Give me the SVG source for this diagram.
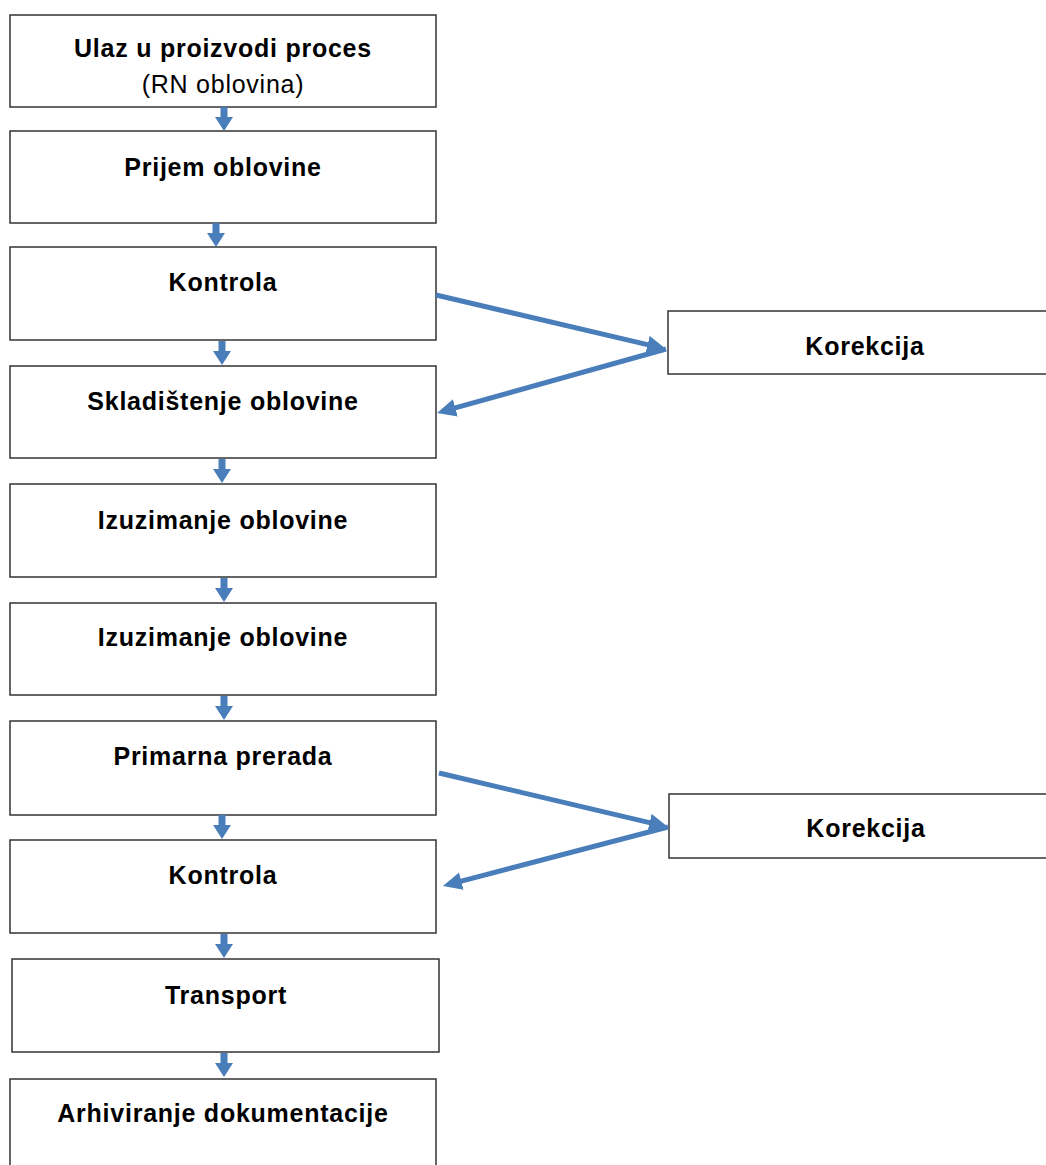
<svg xmlns="http://www.w3.org/2000/svg" width="1046" height="1165" viewBox="0 0 1046 1165">
  <style>
    .box { fill: #ffffff; stroke: #333333; stroke-width: 1.5; }
    .t { font-family: "Liberation Sans", Arial, sans-serif; font-size: 25px; font-weight: bold; fill: #000000; text-anchor: middle; letter-spacing: 0.75px; }
    .r { font-weight: normal; }
    .conn { stroke: #4a7ebb; stroke-width: 5; fill: none; marker-end: url(#head); }
    .varr { fill: #4a7ebb; }
  </style>
  <defs>
    <marker id="head" markerUnits="userSpaceOnUse" markerWidth="22" markerHeight="20" refX="2" refY="9" orient="auto">
      <path d="M0,0 L19,9 L0,18 Z" fill="#4a7ebb"/>
    </marker>
    <path id="down" d="M-3.5,0 H3.5 V10 H9 L0,24 L-9,10 H-3.5 Z"/>
  </defs>
  <rect width="1046" height="1165" fill="#ffffff"/>

  <g id="n1"><rect class="box" x="10" y="15" width="426" height="92"/>
    <text class="t" x="223" y="57">Ulaz u proizvodi proces</text>
    <text class="t r" x="223" y="93">(RN oblovina)</text></g>
  <g id="n2"><rect class="box" x="10" y="131" width="426" height="92"/>
    <text class="t" x="223" y="176">Prijem oblovine</text></g>
  <g id="n3"><rect class="box" x="10" y="247" width="426" height="93"/>
    <text class="t" x="223" y="291">Kontrola</text></g>
  <g id="n4"><rect class="box" x="10" y="366" width="426" height="92"/>
    <text class="t" x="223" y="410">Skladištenje oblovine</text></g>
  <g id="n5"><rect class="box" x="10" y="484" width="426" height="93"/>
    <text class="t" x="223" y="529">Izuzimanje oblovine</text></g>
  <g id="n6"><rect class="box" x="10" y="603" width="426" height="92"/>
    <text class="t" x="223" y="646">Izuzimanje oblovine</text></g>
  <g id="n7"><rect class="box" x="10" y="721" width="426" height="94"/>
    <text class="t" x="223" y="765">Primarna prerada</text></g>
  <g id="n8"><rect class="box" x="10" y="840" width="426" height="93"/>
    <text class="t" x="223" y="884">Kontrola</text></g>
  <g id="n9"><rect class="box" x="12" y="959" width="427" height="93"/>
    <text class="t" x="226" y="1004">Transport</text></g>
  <g id="n10"><rect class="box" x="10" y="1079" width="426" height="100"/>
    <text class="t" x="223" y="1122">Arhiviranje dokumentacije</text></g>
  <g id="k1"><rect class="box" x="668" y="311" width="400" height="63"/>
    <text class="t" x="865" y="355">Korekcija</text></g>
  <g id="k2"><rect class="box" x="669" y="794" width="400" height="64"/>
    <text class="t" x="866" y="837">Korekcija</text></g>

  <g id="connectors">
    <use href="#down" class="varr" transform="translate(224,107)"/>
    <use href="#down" class="varr" transform="translate(216,223)"/>
    <use href="#down" class="varr" transform="translate(222,341)"/>
    <use href="#down" class="varr" transform="translate(222,459)"/>
    <use href="#down" class="varr" transform="translate(224,578)"/>
    <use href="#down" class="varr" transform="translate(224,696)"/>
    <use href="#down" class="varr" transform="translate(222,815)"/>
    <use href="#down" class="varr" transform="translate(224,934)"/>
    <use href="#down" class="varr" transform="translate(224,1053)"/>
    <line class="conn" x1="436" y1="295" x2="649.5" y2="345.1"/>
    <line class="conn" x1="666" y1="349" x2="453.4" y2="408.4"/>
    <line class="conn" x1="439" y1="773" x2="651.5" y2="823.1"/>
    <line class="conn" x1="668" y1="827" x2="459.4" y2="881.6"/>
  </g>
</svg>
